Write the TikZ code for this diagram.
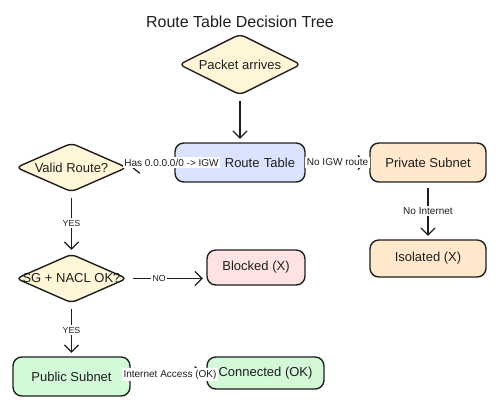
\documentclass[tikz,border=0pt]{standalone}
\usepackage{fontspec}
\setmainfont{Liberation Sans}
\usetikzlibrary{shapes.geometric,arrows.meta}
\definecolor{ink}{HTML}{1E1E1E}
\definecolor{decisionfill}{HTML}{FFF6D8}
\definecolor{tablefill}{HTML}{DBE4FF}
\definecolor{privfill}{HTML}{FFE8CC}
\definecolor{blockfill}{HTML}{FFE3E3}
\definecolor{okfill}{HTML}{D3F9D8}
% diamond text may run past the diamond, as in the sketch
\newcommand{\dlabel}[1]{\makebox[0pt]{#1}}
\begin{document}
\begin{tikzpicture}[x=0.02cm, y=-0.02cm, >={Straight Barb[length=4pt,width=8pt]},
  every node/.style={text=ink, font=\fontsize{7.4}{9}\selectfont},
  decision/.style={diamond, draw=ink, line width=0.8pt, fill=decisionfill, rounded corners=3pt, inner sep=0pt},
  stepbox/.style={rectangle, draw=ink, line width=0.8pt, rounded corners=5pt, minimum height=0.78cm},
  edgelabel/.style={font=\fontsize{5.7}{7}\selectfont, fill=white, inner sep=1pt},
  capslabel/.style={edgelabel, font=\fontsize{5}{6}\selectfont},
  link/.style={->, draw=ink, line width=0.7pt, shorten <=3pt, shorten >=2pt}]
  \useasboundingbox (0,0) rectangle (500,409);

  \node[font=\fontsize{9.1}{11}\selectfont] (title) at (240,22) {Route Table Decision Tree};

  \node[decision, minimum width=2.44cm, minimum height=1.22cm] (packet) at (240,64.5) {\dlabel{Packet arrives}};
  \node[stepbox, fill=tablefill, minimum width=2.6cm, text width=2.2cm, align=right] (table) at (240,162.5) {Route Table};
  \node[decision, minimum width=2.22cm, minimum height=0.98cm] (valid) at (71.5,167.5) {\dlabel{Valid Route?}};
  \node[stepbox, fill=privfill, minimum width=2.32cm] (private) at (428,162.5) {Private Subnet};
  \node[stepbox, fill=privfill, minimum width=2.32cm, minimum height=0.74cm] (isolated) at (428,258.5) {Isolated (X)};
  \node[decision, minimum width=2.22cm, minimum height=0.98cm] (sgnacl) at (71.5,278.5) {\dlabel{SG + NACL OK?}};
  \node[stepbox, fill=blockfill, minimum width=1.96cm, minimum height=0.7cm] (blocked) at (256,267.5) {Blocked (X)};
  \node[stepbox, fill=okfill, minimum width=2.34cm] (public) at (71.5,376.5) {Public Subnet};
  \node[stepbox, fill=okfill, minimum width=2.34cm, minimum height=0.64cm] (connected) at (265.5,373) {Connected (OK)};

  % connectors
  \draw[link] (packet) -- (table);
  \draw[link] (table.west) -- (valid.east) node[edgelabel, pos=0.06] {Has 0.0.0.0/0 -> IGW};
  \draw[link] (table.east) -- (private.west) node[edgelabel, midway] {No IGW route};
  \draw[link] (private) -- (isolated) node[edgelabel, midway] {No Internet};
  \draw[link] (valid) -- (sgnacl) node[capslabel, midway] {YES};
  \draw[link] (sgnacl) -- (blocked.west |- sgnacl) node[capslabel, pos=0.4] {NO};
  \draw[link] (sgnacl) -- (public) node[capslabel, midway] {YES};
  \draw[link] (public.east) -- (connected.west) node[edgelabel, pos=0.52] {Internet Access (OK)};
\end{tikzpicture}
\end{document}
